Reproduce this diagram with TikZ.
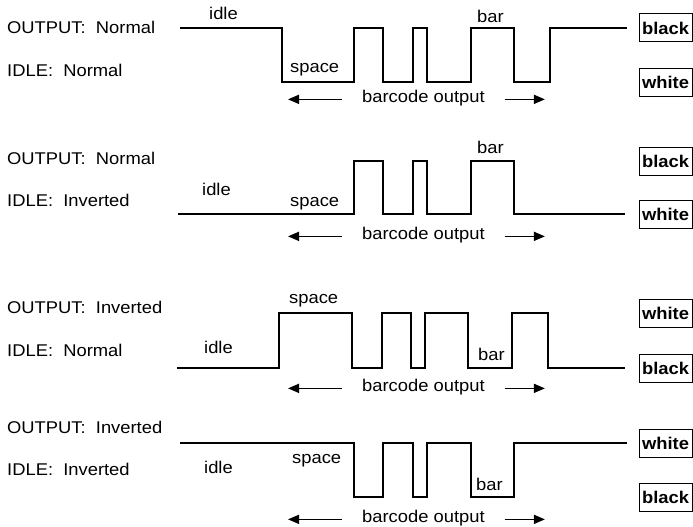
\documentclass[tikz,border=0pt]{standalone}
\usepackage{fontspec}
\setmainfont[FakeStretch=1.08]{Liberation Sans}
\usetikzlibrary{arrows.meta}

\begin{document}
\begin{tikzpicture}[x=1pt, y=-1pt,
    every node/.style={inner sep=0pt, font=\fontsize{17}{20}\selectfont},
    txt/.style={anchor=base west},
    wave/.style={line width=1.5pt},
    level/.style={draw, line width=1pt, minimum width=53pt, minimum height=28pt, font=\fontsize{17}{20}\selectfont\bfseries},
    flowarrow/.style={-{Triangle[length=11pt,width=9pt]}, line width=1.6pt}]
    \useasboundingbox (0,0) rectangle (693,527);

    % OUTPUT normal, IDLE normal
    \node[txt] (out1) at (7,34) {OUTPUT:~~Normal};
    \node[txt] (idl1) at (7,77) {IDLE:~~Normal};
    \node[txt] (idle1) at (209,20) {idle};
    \node[txt] (space1) at (290,72.5) {space};
    \node[txt] (bar1) at (477,22.5) {bar};
    \node[txt] (bc1) at (362,102) {barcode output};
    \node[level] (hi1) at (665.5,28) {black};
    \node[level] (lo1) at (665.5,82.5) {white};
    \draw[wave] (180,28) -| (282,82) -| (354,28) -| (383,82) -| (413,28) -| (427,82)
        -| (471,28) -| (514,82) -| (550,28) -- (627,28);
    \coordinate (l1) at ([xshift=-20pt]bc1.mid west);
    \coordinate (r1) at ([xshift=20pt]bc1.mid east);
    \draw[flowarrow] (l1) -- ++(-54,0);
    \draw[flowarrow] (r1) -- ++(40,0);

    % OUTPUT normal, IDLE inverted
    \node[txt] (out2) at (7,164) {OUTPUT:~~Normal};
    \node[txt] (idl2) at (7,206) {IDLE:~~Inverted};
    \node[txt] (idle2) at (202,195) {idle};
    \node[txt] (space2) at (290,206) {space};
    \node[txt] (bar2) at (477,153) {bar};
    \node[txt] (bc2) at (362,239) {barcode output};
    \node[level] (hi2) at (665.5,161) {black};
    \node[level] (lo2) at (665.5,214) {white};
    \draw[wave] (178,214) -| (354,161) -| (383,214) -| (413,161) -| (427,214)
        -| (471,161) -| (514,214) -- (625,214);
    \coordinate (l2) at ([xshift=-20pt]bc2.mid west);
    \coordinate (r2) at ([xshift=20pt]bc2.mid east);
    \draw[flowarrow] (l2) -- ++(-54,0);
    \draw[flowarrow] (r2) -- ++(40,0);

    % OUTPUT inverted, IDLE normal
    \node[txt] (out3) at (7,313) {OUTPUT:~~Inverted};
    \node[txt] (idl3) at (7,356) {IDLE:~~Normal};
    \node[txt] (idle3) at (204,353) {idle};
    \node[txt] (space3) at (289,303) {space};
    \node[txt] (bar3) at (478,360) {bar};
    \node[txt] (bc3) at (362,391) {barcode output};
    \node[level] (hi3) at (665.5,313) {white};
    \node[level] (lo3) at (665.5,368) {black};
    \draw[wave] (177,368) -| (279,313) -| (352,368) -| (382,313) -| (411,368) -| (425,313)
        -| (468,368) -| (512,313) -| (548,368) -- (625,368);
    \coordinate (l3) at ([xshift=-20pt]bc3.mid west);
    \coordinate (r3) at ([xshift=20pt]bc3.mid east);
    \draw[flowarrow] (l3) -- ++(-54,0);
    \draw[flowarrow] (r3) -- ++(40,0);

    % OUTPUT inverted, IDLE inverted
    \node[txt] (out4) at (7,433) {OUTPUT:~~Inverted};
    \node[txt] (idl4) at (7,475) {IDLE:~~Inverted};
    \node[txt] (idle4) at (204,473) {idle};
    \node[txt] (space4) at (292,463) {space};
    \node[txt] (bar4) at (476,490) {bar};
    \node[txt] (bc4) at (362,522) {barcode output};
    \node[level] (hi4) at (665.5,443) {white};
    \node[level] (lo4) at (665.5,497) {black};
    \draw[wave] (180,443) -| (354,497) -| (383,443) -| (413,497) -| (427,443)
        -| (471,497) -| (514,443) -- (627,443);
    \coordinate (l4) at ([xshift=-20pt]bc4.mid west);
    \coordinate (r4) at ([xshift=20pt]bc4.mid east);
    \draw[flowarrow] (l4) -- ++(-54,0);
    \draw[flowarrow] (r4) -- ++(40,0);
\end{tikzpicture}
\end{document}
